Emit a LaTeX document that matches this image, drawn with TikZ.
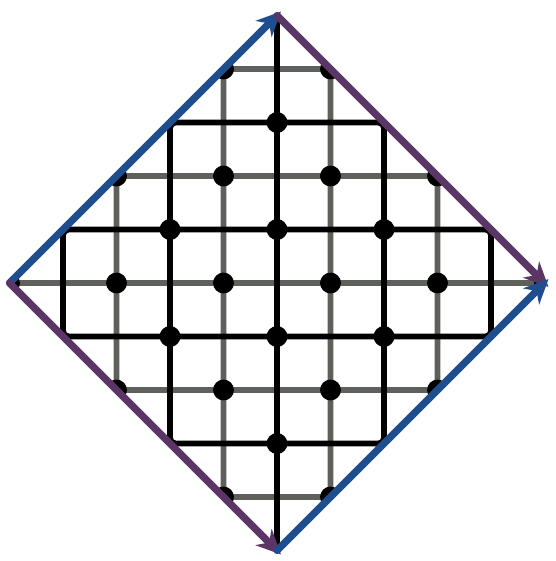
\documentclass[tikz,border=0pt]{standalone}
\usetikzlibrary{arrows.meta}
\definecolor{gridgray}{HTML}{5E605B}
\definecolor{arrblue}{HTML}{1F4E8F}
\definecolor{arrpurple}{HTML}{5B3566}
\begin{document}
\begin{tikzpicture}[x=1cm,y=1cm,
  grayline/.style={draw=gridgray, line width=3pt, rounded corners=3pt},
  blackline/.style={draw=black, line width=3pt, rounded corners=3pt},
  dot/.style={circle, fill=black, inner sep=0pt, minimum size=0.39cm},
  edgearrow/.style={line width=3.8pt, line cap=round,
    -{Stealth[length=13pt,width=12pt,inset=4pt]}, shorten >=-3pt}]
\useasboundingbox (-5.178,-5.196) rectangle (5.196,5.290);
% vertices of the diamond
\coordinate (L) at (-5,0);
\coordinate (T) at (0,5);
\coordinate (R) at (5,0);
\coordinate (B) at (0,-5);
\begin{scope}
\clip (L) -- (T) -- (R) -- (B) -- cycle;
% gray lines
\draw[grayline] (-3,-2) rectangle (3,2);
\draw[grayline] (-1,-4) rectangle (1,4);
\draw[grayline] (L) -- (R);
% black lines
\draw[blackline] (-4,-1) rectangle (4,1);
\draw[blackline] (-2,-3) rectangle (2,3);
\draw[blackline] (T) -- (B);
% dots
\foreach \x/\y [count=\k] in {0/3,-1/2,1/2,-2/1,0/1,2/1,-3/0,-1/0,1/0,3/0,
  -2/-1,0/-1,2/-1,-1/-2,1/-2,0/-3,
  -5/0,5/0,-3/2,3/2,-3/-2,3/-2,-1/4,1/4,-1/-4,1/-4}
  \node[dot] (d\k) at (\x,\y) {};
\end{scope}
% arrows
\draw[edgearrow, arrblue] (L) -- (T);
\draw[edgearrow, arrpurple] (T) -- (R);
\draw[edgearrow, arrpurple] (L) -- (B);
\draw[edgearrow, arrblue] (B) -- (R);
\end{tikzpicture}
\end{document}
